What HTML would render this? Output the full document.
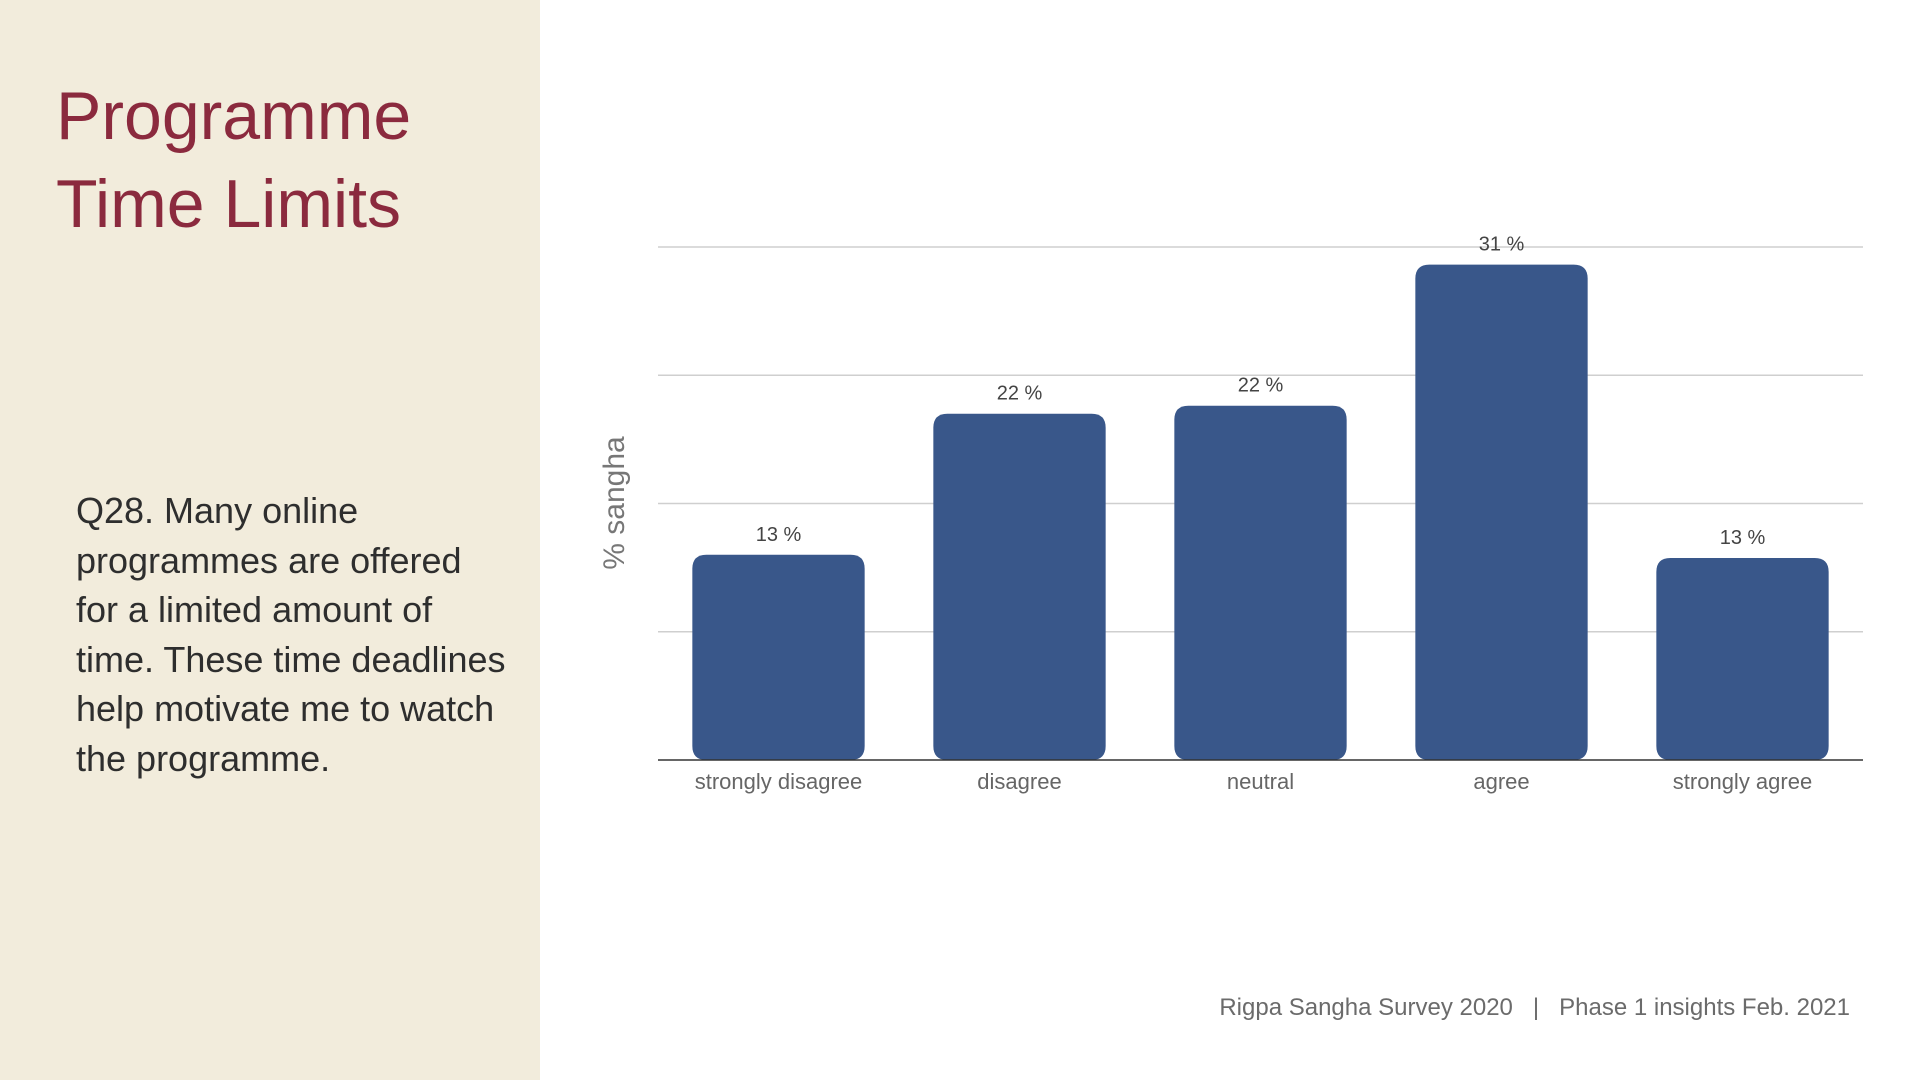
<!DOCTYPE html>
<html><head><meta charset="utf-8"><style>
html,body{margin:0;padding:0;}
body{width:1920px;height:1080px;position:relative;background:#fff;font-family:"Liberation Sans",sans-serif;overflow:hidden;}
#left{position:absolute;left:0;top:0;width:540px;height:1080px;background:#f2ecdc;}
#title{position:absolute;left:56px;top:72px;font-size:68px;line-height:88px;color:#8b2a3e;margin:0;font-weight:normal;}
#question{position:absolute;left:76px;top:486px;width:430px;font-size:36px;line-height:49.6px;color:#2e2e2e;}
#footer{position:absolute;left:1160px;top:994px;width:690px;text-align:right;font-size:24px;color:#6b6b6b;}
</style></head><body>
<div id="left">
<h1 id="title">Programme<br>Time Limits</h1>
<div id="question">Q28. Many online programmes are offered for a limited amount of time. These time deadlines help motivate me to watch the programme.</div>
</div>
<svg id="chart" width="1920" height="1080" style="position:absolute;left:0;top:0">
<g id="grid"></g><g id="bars"></g><g id="labels"></g>
<text x="0" y="0" transform="translate(624,503) rotate(-90)" text-anchor="middle" font-size="30" fill="#777" font-family="Liberation Sans, sans-serif">% sangha</text>
</svg>
<div id="footer">Rigpa Sangha Survey 2020 &nbsp;&nbsp;|&nbsp;&nbsp; Phase 1 insights Feb. 2021</div>
<script>
const categories=["strongly disagree","disagree","neutral","agree","strongly agree"];
const values=[12.8,21.6,22.1,30.9,12.6];
const valueLabels=["13 %","22 %","22 %","31 %","13 %"];
const gridTicks=[8,16,24,32];
const ns="http://www.w3.org/2000/svg";
const X0=658,X1=1863,Y0=760,YMAX=32,YTOP=247;
const y=v=>Y0-(v/YMAX)*(Y0-YTOP);
const slot=(X1-X0)/categories.length;
const x=i=>X0+slot*i+slot/2;
const bw=slot*0.715;
function mk(t,a){const e=document.createElementNS(ns,t);for(const k in a)e.setAttribute(k,a[k]);return e;}
const grid=document.getElementById('grid'),bars=document.getElementById('bars'),labels=document.getElementById('labels');
gridTicks.forEach(t=>{const l=mk('line',{x1:X0,x2:X1,y1:y(t),y2:y(t),stroke:'#cfcfcf','stroke-width':1.5});


grid.appendChild(l);});
categories.forEach((c,i)=>{
const top=y(values[i]),h=Y0-top,r=14;const L=x(i)-bw/2,R=x(i)+bw/2;
const p=mk('path',{d:`M${L},${Y0-r} L${L},${top+r} Q${L},${top} ${L+r},${top} L${R-r},${top} Q${R},${top} ${R},${top+r} L${R},${Y0-r} Q${R},${Y0} ${R-r},${Y0} L${L+r},${Y0} Q${L},${Y0} ${L},${Y0-r} Z`,fill:'#39578a'});


bars.appendChild(p);
const v=mk('text',{x:x(i),y:top-14,'text-anchor':'middle','font-size':20,fill:'#444'});v.textContent=valueLabels[i];


labels.appendChild(v);
const cl=mk('text',{x:x(i),y:Y0+29,'text-anchor':'middle','font-size':22,fill:'#666'});cl.textContent=c;


labels.appendChild(cl);
});
const ax=mk('line',{x1:X0,x2:X1,y1:Y0,y2:Y0,stroke:'#333','stroke-width':1.5});


labels.appendChild(ax);
</script>
</body></html>
